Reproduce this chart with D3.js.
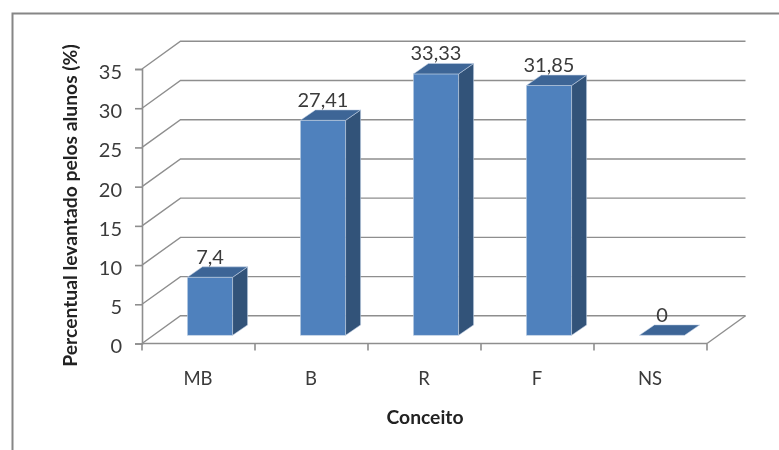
<!DOCTYPE html>
<html><head><meta charset="utf-8">
<script src="https://cdn.jsdelivr.net/npm/d3@7"></script>
<style>html,body{margin:0;padding:0;background:#fff}svg{display:block}text{font-family:Lato,"Open Sans",sans-serif}</style>
</head><body><svg id="c" width="779" height="450"><defs><filter id="soft" x="0" y="0" width="100%" height="100%" filterUnits="userSpaceOnUse"><feGaussianBlur stdDeviation="0.35"/></filter></defs></svg>
<script>
const categories = ["MB","B","R","F","NS"];
const values = [7.4,27.41,33.33,31.85,0];
const valueLabels = ["7,4","27,41","33,33","31,85","0"];
const yTicks = [0,5,10,15,20,25,30,35];
const yTitle = "Percentual levantado pelos alunos (%)";
const xTitle = "Conceito";

const svg = d3.select("#c").append("g").attr("filter","url(#soft)");
svg.append("rect").attr("width",779).attr("height",450).attr("fill","#fff");
const x0 = 142, x1 = 707, yBase = 343.5, yTop = 69;
const wallDx = 38.5, wallDy = -27.7;
const barInsetDx = 11.5, barInsetDy = -8.2, sideDx = 15, sideDy = -10.4;
const gridCol = "#8e8e8e", txt = "#3a3a3a";

const x = d3.scaleBand().domain(categories).range([x0,x1]).paddingInner(0.6).paddingOuter(0.3);
const y = d3.scaleLinear().domain([0,35]).range([yBase,yTop]);

// outer frame
svg.append("path").attr("d","M12.5,450V13.5H779").attr("fill","none").attr("stroke","#868686").attr("stroke-width",2);

// gridlines on side and back walls
svg.append("g").selectAll("path").data(yTicks).join("path")
  .attr("d",d=>d3.line()([[x0,y(d)],[x0+wallDx,y(d)+wallDy],[x1+wallDx,y(d)+wallDy]]))
  .attr("fill","none").attr("stroke",gridCol).attr("stroke-width",1.4);
// floor right edge
svg.append("path").attr("d",d3.line()([[x1,yBase],[x1+wallDx,yBase+wallDy]]))
  .attr("fill","none").attr("stroke",gridCol).attr("stroke-width",1.4);

// y axis
const gy = svg.append("g").attr("transform",`translate(${x0},0)`)
  .call(d3.axisLeft(y).tickValues(yTicks).tickSize(7).tickPadding(13));
gy.selectAll("path,line").attr("stroke",gridCol).attr("stroke-width",1.6);
gy.selectAll("text").attr("font-size",20).attr("fill",txt).attr("dy","0.47em").style("font-family","Lato");

// x axis: labels from the band scale, ticks on the band boundaries
const gx = svg.append("g").attr("transform",`translate(0,${yBase})`)
  .call(d3.axisBottom(d3.scalePoint().domain(categories).range([x0+x.step()/2-1,x1-x.step()/2-1])).tickSize(0).tickPadding(28));
gx.select("path").attr("stroke",gridCol).attr("stroke-width",1.6).attr("d",`M${x0},0H${x1}`);
gx.selectAll("text").attr("font-size",18.5).attr("fill",txt).style("font-family","Lato");
gx.append("g").selectAll("line").data(d3.range(categories.length+1)).join("line")
  .attr("x1",i=>x0+i*x.step()).attr("x2",i=>x0+i*x.step()).attr("y1",0).attr("y2",7)
  .attr("stroke",gridCol).attr("stroke-width",1.6);

// 3D bars
const bars = svg.append("g").selectAll("g").data(categories.map((c,i)=>({c,v:values[i],l:valueLabels[i]}))).join("g");
const bw = x.bandwidth();
const rx = d=>x(d.c)+barInsetDx, bot = yBase+barInsetDy, hgt = d=>yBase-y(d.v);
const edge = {stroke:"#c3d3e6","stroke-width":0.7,"stroke-opacity":0.8};
bars.filter(d=>d.v>0).append("rect").attr("x",rx).attr("y",d=>bot-hgt(d)).attr("width",bw).attr("height",hgt)
  .attr("fill","#4f81bd").attr("stroke",edge.stroke).attr("stroke-width",edge["stroke-width"]).attr("stroke-opacity",edge["stroke-opacity"]);
bars.filter(d=>d.v>0).append("path").attr("d",d=>{
    const l=rx(d)+bw,t=bot-hgt(d);
    return d3.line()([[l,t],[l+sideDx,t+sideDy],[l+sideDx,bot+sideDy],[l,bot]])+"Z";})
  .attr("fill","#325279").attr("stroke",edge.stroke).attr("stroke-width",edge["stroke-width"]).attr("stroke-opacity",edge["stroke-opacity"]);
bars.append("path").attr("d",d=>{
    const l=rx(d),t=bot-hgt(d);
    return d3.line()([[l,t],[l+sideDx,t+sideDy],[l+bw+sideDx,t+sideDy],[l+bw,t]])+"Z";})
  .attr("fill","#3c6596").attr("stroke",edge.stroke).attr("stroke-width",edge["stroke-width"]).attr("stroke-opacity",edge["stroke-opacity"]);

// value labels
bars.append("text").text(d=>d.l)
  .attr("x",d=>rx(d)+bw/2).attr("y",d=>bot-hgt(d)+sideDy-3)
  .attr("text-anchor","middle").attr("font-size",20).attr("fill",txt);

// axis titles
svg.append("text").text(xTitle).attr("x",425).attr("y",423.5).attr("text-anchor","middle")
  .attr("font-size",19.3).attr("font-weight",700).attr("fill","#222");
svg.append("text").text(yTitle).attr("transform","translate(77,205.5) rotate(-90)").attr("text-anchor","middle")
  .attr("font-size",19.3).attr("font-weight",700).attr("fill","#222");
</script></body></html>
